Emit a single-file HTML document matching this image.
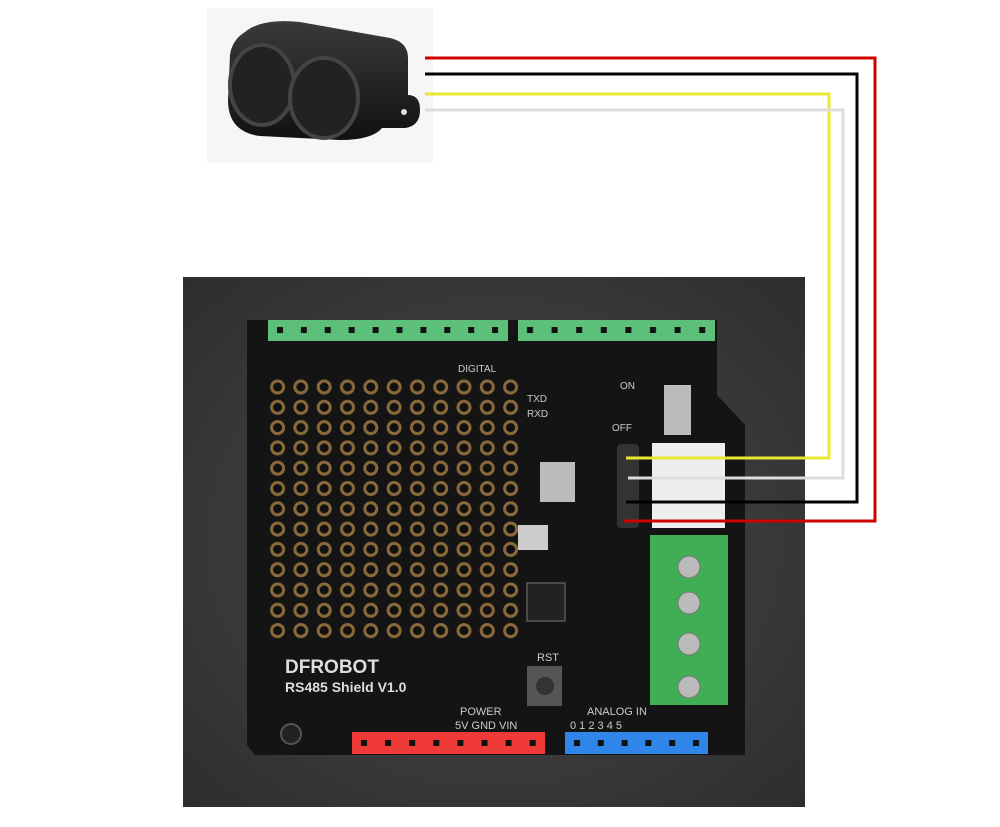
<!DOCTYPE html>
<html><head><meta charset="utf-8"><style>
html,body{margin:0;padding:0;background:#fff;width:1000px;height:827px;overflow:hidden}
svg{display:block}
text{font-family:"Liberation Sans",sans-serif}
</style></head><body>
<svg width="1000" height="827" viewBox="0 0 1000 827" xmlns="http://www.w3.org/2000/svg">
<defs>
<radialGradient id="bg" cx="50%" cy="50%" r="70%"><stop offset="0" stop-color="#4a4a4a"/><stop offset="1" stop-color="#2e2e2e"/></radialGradient>
<linearGradient id="sens" x1="0" y1="0" x2="0" y2="1"><stop offset="0" stop-color="#3a3a3a"/><stop offset="1" stop-color="#111"/></linearGradient>
<pattern id="holes" x="266" y="377" width="23.3" height="20.3" patternUnits="userSpaceOnUse">
<circle cx="11.6" cy="10" r="7.5" fill="#8a6a3a"/><circle cx="11.6" cy="10" r="4.5" fill="#111"/></pattern>
<pattern id="gp1" x="268" y="320" width="23.9" height="21" patternUnits="userSpaceOnUse"><rect x="9" y="7" width="6" height="6" fill="#111"/></pattern>
<pattern id="gp2" x="518" y="320" width="24.6" height="21" patternUnits="userSpaceOnUse"><rect x="9" y="7" width="6" height="6" fill="#111"/></pattern>
<pattern id="rp" x="352" y="732" width="24.1" height="22" patternUnits="userSpaceOnUse"><rect x="9" y="8" width="6" height="6" fill="#111"/></pattern>
<pattern id="bp" x="565" y="732" width="23.8" height="22" patternUnits="userSpaceOnUse"><rect x="9" y="8" width="6" height="6" fill="#111"/></pattern>
</defs>
<!-- sensor -->
<rect x="207" y="8" width="226" height="155" fill="#f6f6f6"/>
<path d="M245 32 Q262 18 300 22 L390 38 Q408 42 408 58 L408 95 Q420 95 420 110 Q420 126 405 128 L382 128 Q372 140 340 140 L260 136 Q228 132 228 100 L230 55 Q232 40 245 32Z" fill="url(#sens)"/>
<ellipse cx="262" cy="85" rx="32" ry="40" fill="#222" stroke="#444" stroke-width="4"/>
<ellipse cx="324" cy="98" rx="34" ry="40" fill="#222" stroke="#444" stroke-width="4"/>
<circle cx="404" cy="112" r="3" fill="#ddd"/>
<!-- photo bg -->
<rect x="183" y="277" width="622" height="530" fill="url(#bg)"/>
<!-- board -->
<path d="M247 320 L717 320 L717 395 L745 425 L745 755 L255 755 L247 745 Z" fill="#141414"/>
<rect x="266" y="377" width="256" height="264" fill="url(#holes)"/>
<!-- headers -->
<rect x="268" y="320" width="240" height="21" fill="#5cc07a"/>
<rect x="268" y="320" width="240" height="21" fill="url(#gp1)"/>
<rect x="518" y="320" width="197" height="21" fill="#5cc07a"/>
<rect x="518" y="320" width="197" height="21" fill="url(#gp2)"/>
<g fill="#ccc" font-size="10">
<text x="458" y="372">DIGITAL</text>
<text x="527" y="402">TXD</text><text x="527" y="417">RXD</text>
<text x="620" y="389">ON</text><text x="612" y="431">OFF</text>
<text x="537" y="661" font-size="11">RST</text>
<text x="460" y="715" font-size="11">POWER</text>
<text x="455" y="729" font-size="11">5V  GND  VIN</text>
<text x="587" y="715" font-size="11">ANALOG IN</text>
<text x="570" y="729" font-size="11">0  1  2  3  4  5</text>
</g>
<text x="285" y="673" fill="#ddd" font-size="19" font-weight="bold">DFROBOT</text>
<text x="285" y="692" fill="#ddd" font-size="14" font-weight="bold">RS485 Shield V1.0</text>
<circle cx="291" cy="734" r="10" fill="#222" stroke="#555" stroke-width="2"/>
<!-- switches -->
<rect x="664" y="385" width="27" height="50" fill="#bbb"/>
<rect x="540" y="462" width="35" height="40" fill="#bbb"/>
<rect x="527" y="583" width="38" height="38" fill="#222" stroke="#777"/>
<rect x="527" y="666" width="35" height="40" fill="#555"/>
<circle cx="545" cy="686" r="9" fill="#333"/>
<rect x="518" y="525" width="30" height="25" fill="#ccc"/>
<!-- pin header & connector -->
<rect x="617" y="444" width="22" height="84" rx="4" fill="#333"/>
<rect x="652" y="443" width="73" height="85" fill="#eee"/>
<!-- terminal block -->
<rect x="650" y="535" width="78" height="170" fill="#3fae55"/>
<g fill="#bbb" stroke="#777"><circle cx="689" cy="567" r="11"/><circle cx="689" cy="603" r="11"/><circle cx="689" cy="644" r="11"/><circle cx="689" cy="687" r="11"/></g>
<!-- bottom headers -->
<rect x="352" y="732" width="193" height="22" fill="#f03a3a"/>
<rect x="352" y="732" width="193" height="22" fill="url(#rp)"/>
<rect x="565" y="732" width="143" height="22" fill="#2f86e8"/>
<rect x="565" y="732" width="143" height="22" fill="url(#bp)"/>
<!-- wires -->
<g fill="none" stroke-width="3">
<polyline points="425,58 875,58 875,521 624,521" stroke="#d00000"/>
<polyline points="425,74 857,74 857,502 626,502" stroke="#000"/>
<polyline points="425,94 829,94 829,458 626,458" stroke="#e8e830"/>
<polyline points="425,110 843,110 843,478 628,478" stroke="#ddd"/>
</g>
</svg>
</body></html>
